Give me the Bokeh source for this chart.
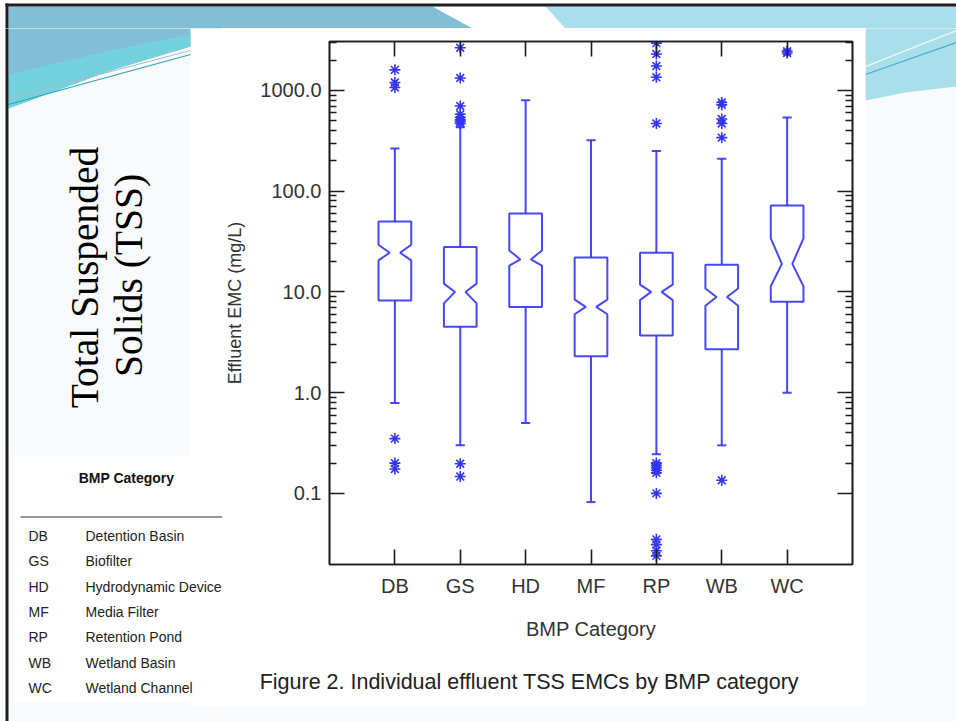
import numpy as np
from bokeh.plotting import figure
from bokeh.layouts import column, row
from bokeh.models import (Range1d, FixedTicker, LogAxis, LinearAxis, PrintfTickFormatter,
                          CustomJSTickFormatter, CustomLabelingPolicy, Label, ColumnDataSource)
from bokeh.embed import file_html
from bokeh.resources import INLINE

# ---------------- data ----------------
categories = ["DB", "GS", "HD", "MF", "RP", "WB", "WC"]
category_names = ["Detention Basin", "Biofilter", "Hydrodynamic Device", "Media Filter",
                  "Retention Pond", "Wetland Basin", "Wetland Channel"]
q1 = [8.2, 4.5, 7.1, 2.3, 3.7, 2.7, 8.0]
q3 = [50.0, 28.0, 60.0, 22.0, 24.5, 18.6, 72.0]
median = [24.5, 10.0, 21.0, 7.1, 10.0, 8.9, 19.0]
notch_lo = [20.6, 7.7, 18.2, 6.0, 8.3, 7.3, 11.4]
notch_hi = [29.4, 12.1, 25.8, 8.4, 11.8, 10.8, 34.0]
whisker_lo = [0.79, 0.30, 0.50, 0.082, 0.245, 0.30, 1.0]
whisker_hi = [265.0, 430.0, 800.0, 320.0, 250.0, 210.0, 540.0]

outlier_cat = (["DB"] * 6 + ["GS"] * 10 + ["RP"] * 15 + ["WB"] * 6 + ["WC"] * 2)
outlier_val = ([1600, 1200, 1070, 0.35, 0.20, 0.175] +
               [2650, 1330, 700, 580, 540, 510, 490, 470, 0.197, 0.147] +
               [2950, 2300, 1750, 1350, 470, 0.20, 0.19, 0.18, 0.17, 0.16, 0.10,
                0.035, 0.031, 0.027, 0.024] +
               [760, 720, 520, 470, 340, 0.135] +
               [2450, 2350])

y_major_ticks = [0.1, 1, 10, 100, 1000]

slide_title = ["Total Suspended", "Solids  (TSS)"]
table_title = "BMP Category"
caption = "Figure 2.  Individual effluent TSS EMCs by BMP category"

BLUE = "#3434f4"
AXC = "#1c1c1c"
SLIDE_BG = "#f9fafb"

# ---------------- page regions (pixels) ----------------
W, H = 956, 721
TOP_H = 28
LEFT_W = 222
RIGHT_X = 865
MAIN_BOTTOM = 650

# decorative shapes of the slide (page pixel coordinates)
L_BLUE = [(8, 6), (432, 6), (472, 28), (190, 28), (190, 46), (110, 70), (8, 108)]
L_CYAN = [(8, 74), (110, 50), (190, 34), (190, 46), (110, 70), (8, 108)]
R_CYAN = [(545, 6), (956, 6), (956, 86), (905, 92), (865, 100), (865, 28), (565, 28)]
TOP_BORDER = [(5, 3), (956, 3), (956, 6), (5, 6)]
LEFT_BORDER = [(5, 3), (8, 3), (8, 721), (5, 721)]


def no_align(f):
    if "frame_align" in f.properties():
        f.frame_align = False
    return f


def deco_fig(x0, x1, y0, y1, bg=SLIDE_BG):
    f = figure(width=x1 - x0, height=y1 - y0, x_range=Range1d(x0, x1), y_range=Range1d(y1, y0),
               x_axis_location=None, y_axis_location=None, output_backend="svg",
               toolbar_location=None, min_border=0, outline_line_color=None,
               background_fill_color=bg, border_fill_color=bg)
    f.grid.visible = False
    return no_align(f)


def shape(f, pts, color):
    f.patch([a for a, b in pts], [b for a, b in pts], fill_color=color, line_color=None)


def put(f, x, y, text, size, font="Liberation Sans", align="left", style="normal",
        angle=0, color="#1e1e1e"):
    f.add_layout(Label(x=x, y=y, text=text, text_font=font, text_font_size=size,
                       text_font_style=style, text_align=align, text_baseline="middle",
                       angle=angle, angle_units="deg", text_color=color))


# ---------------- top band ----------------
top = deco_fig(0, W, 0, TOP_H)
top.quad(left=0, right=W, top=0, bottom=TOP_H, fill_color="white", line_color=None)
shape(top, L_BLUE, "#82bfd5")
shape(top, R_CYAN, "#a9dfea")
top.quad(left=190, right=RIGHT_X, top=28, bottom=TOP_H, fill_color="white", line_color=None)
shape(top, TOP_BORDER, "#202020")
shape(top, LEFT_BORDER, "#202020")

# ---------------- left column ----------------
left = deco_fig(0, LEFT_W, TOP_H, H)
left.quad(left=0, right=5, top=TOP_H, bottom=H, fill_color="white", line_color=None)
left.quad(left=190, right=LEFT_W, top=28, bottom=705, fill_color="white", line_color=None)
left.quad(left=14, right=LEFT_W, top=456, bottom=702, fill_color="white", line_color=None)
shape(left, L_BLUE, "#82bfd5")
shape(left, L_CYAN, "#74d2df")
left.line([8, 95, 190], [104, 80, 54], line_color="#2aa6b8", line_width=1.2)
left.line([8, 95, 190], [98, 75, 50], line_color="#a7bcc6", line_width=1.0)
shape(left, LEFT_BORDER, "#202020")

put(left, 84, 277, slide_title[0], "39.5px", font="Liberation Serif", align="center", angle=90, color="black")
put(left, 128, 270, slide_title[1], "39.5px", font="Liberation Serif", align="center", angle=90, color="black")

put(left, 126, 477, table_title, "14px", align="center", style="bold", color="#111111")
left.line([20, LEFT_W], [516.5, 516.5], line_color="#333333", line_width=1.2)
row_y = [535, 560, 586, 611, 636, 662, 687]
for c, n, yy in zip(categories, category_names, row_y):
    put(left, 28, yy, c, "14px", color="#222222")
    put(left, 85, yy, n, "14px", color="#222222")

# ---------------- right column ----------------
right = deco_fig(RIGHT_X, W, TOP_H, H)
shape(right, R_CYAN, "#a9dfea")
right.line([865, 956], [74, 42], line_color="#4aa7c8", line_width=1.2)
right.line([865, 956], [66, 30], line_color="#e8f6f9", line_width=1.5)

# ---------------- main chart ----------------
FRAME_L, FRAME_R, FRAME_T, FRAME_B = 327, 852, 41, 564
p = figure(width=RIGHT_X - LEFT_W, height=MAIN_BOTTOM - TOP_H,
           x_range=Range1d(0, 8), y_range=Range1d(0.0197, 3060),
           y_axis_type="log", output_backend="svg", toolbar_location=None,
           min_border_left=FRAME_L - LEFT_W, min_border_right=RIGHT_X - FRAME_R,
           min_border_top=FRAME_T - TOP_H, min_border_bottom=MAIN_BOTTOM - FRAME_B,
           border_fill_color="white", background_fill_color="white")
no_align(p)
p.grid.visible = False
p.outline_line_color = AXC
p.outline_line_width = 1.6

xpos = np.arange(1, len(categories) + 1)
minor = [m * d for d in y_major_ticks for m in range(2, 10) if m * d < 3060]
xticker = FixedTicker(ticks=list(xpos))
yticker = FixedTicker(ticks=y_major_ticks, minor_ticks=minor)


def style_axis(ax):
    ax.axis_line_color = AXC
    ax.axis_line_width = 1.6
    ax.major_tick_line_color = AXC
    ax.major_tick_line_width = 1.6
    ax.minor_tick_line_color = AXC
    ax.minor_tick_line_width = 1.4
    ax.major_tick_in = 15
    ax.major_tick_out = 0
    ax.minor_tick_in = 7
    ax.minor_tick_out = 0
    ax.major_label_text_font = "Liberation Sans"
    ax.major_label_text_font_size = "20px"
    ax.major_label_text_color = "#333333"
    ax.axis_label_text_font = "Liberation Sans"
    ax.axis_label_text_font_style = "normal"
    ax.axis_label_text_color = "#333333"


def hide_labels(ax):
    ax.formatter = CustomJSTickFormatter(code="return ''")
    ax.major_label_text_font_size = "1px"
    ax.major_label_standoff = 0
    ax.major_label_policy = CustomLabelingPolicy(code="for (const i of indices) indices.unset(i)")


ya = p.yaxis[0]
style_axis(ya)
ya.ticker = yticker
ya.formatter = PrintfTickFormatter(format="%.1f")
ya.major_label_standoff = 8
ya.axis_label = "Effluent EMC (mg/L)"
ya.axis_label_text_font_size = "18px"
ya.axis_label_standoff = 12

ra = LogAxis(ticker=yticker)
style_axis(ra)
hide_labels(ra)
p.add_layout(ra, "right")

xa = p.xaxis[0]
style_axis(xa)
xa.ticker = xticker
xa.major_label_overrides = {int(i): c for i, c in zip(xpos, categories)}
xa.minor_tick_line_color = None
xa.major_label_standoff = 10
xa.axis_label = "BMP Category"
xa.axis_label_text_font_size = "20px"
xa.axis_label_standoff = 18

ta = LinearAxis(ticker=xticker)
style_axis(ta)
ta.minor_tick_line_color = None
hide_labels(ta)
p.add_layout(ta, "above")

# notched boxes
bw, nw, cw = 0.25, 0.08, 0.07
xs_box, ys_box = [], []
for x, a, nl, m, nh, b in zip(xpos, q1, notch_lo, median, notch_hi, q3):
    xs_box.append([x - bw, x - bw, x - nw, x - bw, x - bw, x + bw, x + bw, x + nw, x + bw, x + bw])
    ys_box.append([a, nl, m, nh, b, b, nh, m, nl, a])
p.patches(xs_box, ys_box, fill_color=None, line_color=BLUE, line_width=2, line_alpha=0.9)

# whiskers and caps
for y_from, y_to in ((q3, whisker_hi), (q1, whisker_lo)):
    p.segment(x0=xpos, y0=y_from, x1=xpos, y1=y_to, line_color=BLUE, line_width=2, line_alpha=0.9)
    p.segment(x0=xpos - cw, y0=y_to, x1=xpos + cw, y1=y_to, line_color=BLUE, line_width=2, line_alpha=0.9)

# outliers
cat_index = {c: i + 1 for i, c in enumerate(categories)}
src = ColumnDataSource(dict(x=[cat_index[c] for c in outlier_cat], y=outlier_val))
p.scatter("x", "y", source=src, marker="asterisk", size=11, line_color=BLUE, line_width=1.6)

# ---------------- caption strip ----------------
cap = deco_fig(LEFT_W, RIGHT_X, MAIN_BOTTOM, H)
cap.quad(left=LEFT_W, right=RIGHT_X, top=MAIN_BOTTOM, bottom=705, fill_color="white", line_color=None)
put(cap, 532, 681, caption, "21.5px", align="center", color="#222222")

layout = column(top, row(left, column(p, cap, spacing=0), right, spacing=0), spacing=0)
open("out.html", "w").write(file_html(layout, INLINE))
